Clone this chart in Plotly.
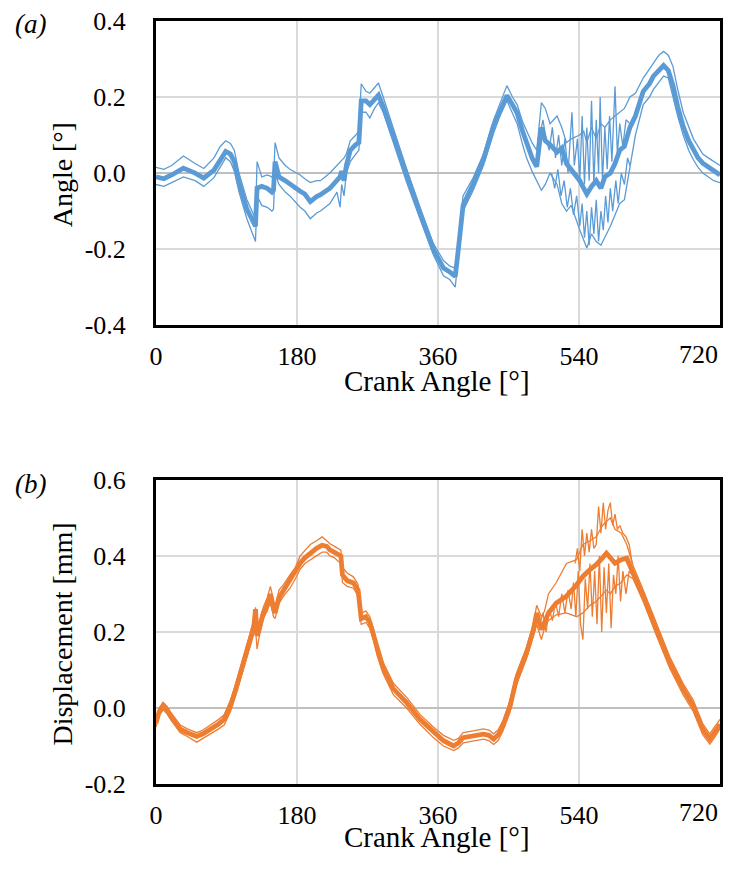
import plotly.graph_objects as go

# ---------------- data ----------------
CRANK_TICKS = [0, 180, 360, 540, 720]
CRANK_LABELS = ["0", "180", "360", "540", "720"]
A_TICKS = [-0.4, -0.2, 0.0, 0.2, 0.4]
A_LABELS = ["-0.4", "-0.2", "0.0", "0.2", "0.4"]
B_TICKS = [-0.2, 0.0, 0.2, 0.4, 0.6]
B_LABELS = ["-0.2", "0.0", "0.2", "0.4", "0.6"]

# (a) angle [deg]
A_DEG = [0, 10, 20, 35, 50, 61, 74, 82, 89, 95, 100, 106, 116, 127, 129, 135, 142, 148, 150, 152,
         157, 165, 171, 184, 190, 197, 205, 210, 222, 231, 235, 237, 240, 243, 248, 255, 259, 262, 268, 273,
         279, 284, 290, 303, 320, 337, 354, 367, 375, 382, 386, 392, 405, 418, 431, 440, 448, 455, 461, 468,
         473, 480, 486, 492, 497, 503, 512, 518, 524, 530, 541, 546, 550, 556, 562, 568, 573, 580, 586, 592,
         598, 605, 612, 622, 630, 635, 642, 648, 654, 660, 666, 673, 680, 686, 692, 698, 705, 712, 720]
A_MEAN = [-0.01, -0.015, -0.005, 0.013, 0.0, -0.013, 0.008, 0.035, 0.057, 0.05,
          0.03, -0.026, -0.095, -0.14, -0.04, -0.035, -0.04, -0.05, -0.045, 0.03,
          -0.01, -0.02, -0.03, -0.048, -0.055, -0.075, -0.062, -0.057, -0.04, -0.018,
          -0.01, 0.005, -0.02, 0.02, 0.06, 0.075, 0.08, 0.19, 0.19, 0.18,
          0.195, 0.205, 0.175, 0.096, -0.009, -0.105, -0.2, -0.25, -0.26, -0.272,
          -0.2, -0.085, -0.028, 0.035, 0.125, 0.17, 0.204, 0.18, 0.158, 0.11,
          0.079, 0.04, 0.017, 0.12, 0.085, 0.075, 0.055, 0.066, 0.025, 0.01,
          -0.02, -0.04, -0.055, -0.035, -0.02, -0.04, -0.01, 0.0, 0.025, 0.06,
          0.07, 0.12, 0.15, 0.215, 0.235, 0.255, 0.27, 0.283, 0.27, 0.23,
          0.175, 0.123, 0.085, 0.06, 0.04, 0.026, 0.015, 0.005, -0.005]
A_UP = [0.015, 0.01, 0.02, 0.045, 0.025, 0.012, 0.04, 0.07, 0.085, 0.078,
        0.06, 0.0, -0.07, -0.12, 0.03, -0.01, -0.005, -0.01, -0.02, 0.08,
        0.04, 0.02, 0.01, -0.005, -0.015, -0.025, -0.02, -0.02, 0.0, 0.02,
        0.03, 0.035, 0.04, 0.05, 0.085, 0.1, 0.11, 0.235, 0.215, 0.21,
        0.225, 0.237, 0.2, 0.115, 0.01, -0.09, -0.185, -0.23, -0.245, -0.25,
        -0.17, -0.06, -0.012, 0.05, 0.14, 0.19, 0.23, 0.2, 0.18, 0.135,
        0.11, 0.08, 0.06, 0.185, 0.17, 0.13, 0.15, 0.12, 0.08, 0.09,
        0.1, 0.11, 0.08, 0.12, 0.09, 0.13, 0.12, 0.14, 0.15, 0.16,
        0.17, 0.2, 0.21, 0.25, 0.275, 0.29, 0.31, 0.32, 0.31, 0.28,
        0.22, 0.16, 0.12, 0.09, 0.07, 0.05, 0.04, 0.03, 0.02]
A_LOW = [-0.03, -0.035, -0.025, -0.01, -0.02, -0.035, -0.012, 0.015, 0.04, 0.03,
         0.005, -0.05, -0.12, -0.18, -0.06, -0.085, -0.09, -0.1, -0.095, 0.0,
         -0.03, -0.05, -0.06, -0.09, -0.1, -0.12, -0.105, -0.1, -0.08, -0.05,
         -0.09, -0.03, -0.06, 0.0, 0.03, 0.05, 0.06, 0.16, 0.16, 0.145,
         0.17, 0.185, 0.16, 0.08, -0.025, -0.12, -0.215, -0.27, -0.28, -0.3,
         -0.22, -0.1, -0.045, 0.02, 0.105, 0.155, 0.19, 0.16, 0.13, 0.075,
         0.04, 0.005, -0.02, -0.045, -0.03, 0.0, -0.03, -0.08, -0.1, -0.085,
         -0.15, -0.175, -0.197, -0.16, -0.18, -0.19, -0.17, -0.14, -0.11, -0.08,
         -0.07, 0.01, 0.1, 0.18, 0.2, 0.22, 0.24, 0.255, 0.25, 0.2,
         0.15, 0.1, 0.06, 0.035, 0.015, 0.0, -0.01, -0.02, -0.025]
A_SPK1_DEG = [486, 490, 494, 498, 502, 506, 510, 514, 518, 522, 526, 529, 531, 534, 538, 541, 544, 547,
              550, 553, 556, 559, 562, 565, 567, 570, 573, 576, 579, 582, 586, 589, 592, 596, 600, 605]
A_SPK1 = [0.03, 0.1, 0.14, 0.09, 0.06, 0.12, 0.04, 0.1, 0.02, 0.09, 0.0, 0.1, 0.16, 0.02, 0.09, -0.02, 0.15, -0.03,
          0.12, -0.02, 0.19, -0.03, 0.14, 0.0, 0.2, -0.02, 0.12, 0.01, 0.15, 0.03, 0.228, 0.05, 0.13, 0.07, 0.14, 0.13]
A_SPK2_DEG = [505, 509, 513, 517, 521, 525, 529, 533, 537, 541, 544, 547, 550, 553, 556, 559, 562, 565,
              568, 571, 574, 577, 580, 583, 587, 590, 594, 598, 602, 605]
A_SPK2 = [0.0, -0.04, 0.01, -0.06, -0.02, -0.09, -0.04, -0.11, -0.06, -0.14, -0.08, -0.17, -0.1, -0.19, -0.09,
          -0.16, -0.07, -0.18, -0.1, -0.15, -0.06, -0.13, -0.04, -0.1, -0.02, -0.08, 0.0, -0.03, 0.04, 0.02]

# (b) displacement [mm]
B_DEG = [0, 4, 9, 14, 18.5, 25, 31, 40, 52, 60, 70, 80, 87, 95, 102, 108, 115, 120, 125, 127,
         129, 132, 137, 142, 146, 150, 152, 157, 163, 171, 178, 184, 190, 197, 205, 212, 218, 222, 228, 233,
         236, 238, 244, 252, 258, 262, 268, 273, 278, 282, 290, 303, 320, 337, 354, 367, 380, 386, 392, 405,
         418, 425, 431, 437, 443, 452, 460, 473, 482, 486, 492, 496, 501, 511, 524, 537, 545, 554, 562, 570,
         575, 580, 586, 594, 601, 609, 622, 639, 656, 673, 686, 698, 707, 713, 720]
B_MEAN = [-0.04, -0.01, 0.005, -0.005, -0.021, -0.04, -0.056, -0.065, -0.075, -0.068,
          -0.056, -0.042, -0.03, 0.005, 0.05, 0.093, 0.14, 0.18, 0.215, 0.26,
          0.19, 0.21, 0.25, 0.27, 0.3, 0.26, 0.25, 0.29, 0.31, 0.333,
          0.355, 0.381, 0.395, 0.407, 0.42, 0.428, 0.425, 0.416, 0.41, 0.403,
          0.4, 0.35, 0.335, 0.329, 0.31, 0.235, 0.24, 0.225, 0.19, 0.155,
          0.105, 0.05, 0.014, -0.03, -0.064, -0.086, -0.1, -0.092, -0.078, -0.073,
          -0.069, -0.072, -0.082, -0.07, -0.047, 0.005, 0.075, 0.145, 0.206, 0.25,
          0.206, 0.225, 0.25, 0.276, 0.294, 0.324, 0.346, 0.364, 0.377, 0.395,
          0.407, 0.395, 0.381, 0.39, 0.394, 0.355, 0.294, 0.206, 0.119, 0.049,
          0.005, -0.056, -0.082, -0.064, -0.043]
B_UP = [-0.03, 0.0, 0.015, 0.005, -0.01, -0.03, -0.045, -0.055, -0.065, -0.058,
        -0.045, -0.03, -0.018, 0.02, 0.065, 0.108, 0.155, 0.195, 0.235, 0.265,
        0.225, 0.225, 0.265, 0.29, 0.32, 0.28, 0.265, 0.31, 0.325, 0.35,
        0.37, 0.4, 0.415, 0.43, 0.44, 0.45, 0.44, 0.432, 0.425, 0.42,
        0.415, 0.37, 0.355, 0.345, 0.325, 0.25, 0.255, 0.24, 0.205, 0.17,
        0.12, 0.065, 0.028, -0.017, -0.05, -0.072, -0.085, -0.08, -0.065, -0.06,
        -0.055, -0.058, -0.068, -0.057, -0.033, 0.02, 0.09, 0.16, 0.225, 0.27,
        0.24, 0.255, 0.3, 0.33, 0.38, 0.39, 0.43, 0.44, 0.45, 0.48,
        0.49, 0.5, 0.47, 0.46, 0.43, 0.375, 0.31, 0.222, 0.134, 0.064,
        0.02, -0.042, -0.068, -0.05, -0.03]
B_LOW = [-0.05, -0.02, -0.005, -0.015, -0.03, -0.05, -0.065, -0.075, -0.09, -0.08,
         -0.068, -0.055, -0.045, -0.01, 0.035, 0.078, 0.125, 0.165, 0.2, 0.21,
         0.155, 0.19, 0.235, 0.255, 0.28, 0.24, 0.235, 0.275, 0.295, 0.315,
         0.34, 0.365, 0.38, 0.39, 0.4, 0.41, 0.41, 0.4, 0.395, 0.385,
         0.385, 0.33, 0.32, 0.315, 0.295, 0.22, 0.225, 0.21, 0.175, 0.14,
         0.09, 0.035, 0.0, -0.043, -0.078, -0.1, -0.112, -0.105, -0.092, -0.086,
         -0.082, -0.086, -0.096, -0.085, -0.06, -0.01, 0.06, 0.13, 0.19, 0.22,
         0.18, 0.21, 0.23, 0.245, 0.25, 0.24, 0.25, 0.27, 0.28, 0.3,
         0.31, 0.3, 0.32, 0.33, 0.35, 0.34, 0.28, 0.19, 0.104, 0.034,
         -0.01, -0.07, -0.095, -0.078, -0.055]
B_SPK1_DEG = [535, 538, 541, 544, 547, 550, 553, 556, 559, 562, 565, 568, 571, 574, 577, 580, 583, 586,
              589, 592, 596, 600, 604, 608]
B_SPK1 = [0.38, 0.42, 0.36, 0.47, 0.4, 0.46, 0.41, 0.47, 0.42, 0.43, 0.53, 0.46, 0.54, 0.47, 0.52, 0.54, 0.48,
          0.51, 0.47, 0.48, 0.46, 0.45, 0.43, 0.38]
B_SPK2_DEG = [490, 494, 498, 502, 506, 510, 514, 518, 522, 526, 530, 533, 536, 539, 542, 545, 548, 551,
              554, 557, 560, 563, 566, 569, 572, 575, 578, 581, 584, 587, 590, 593, 596, 600, 604, 608]
B_SPK2 = [0.22, 0.25, 0.2, 0.26, 0.23, 0.28, 0.24, 0.3, 0.25, 0.31, 0.26, 0.33, 0.24, 0.36, 0.22, 0.18, 0.34,
          0.26, 0.38, 0.24, 0.36, 0.22, 0.4, 0.2, 0.37, 0.25, 0.38, 0.21, 0.35, 0.3, 0.4, 0.28, 0.36, 0.3, 0.36, 0.35]

# ---------------- figure ----------------
BLUE = "#5B9BD5"
ORANGE = "#ED7D31"
FONT = "Liberation Serif, Times New Roman, Times, serif"

OFF = 8                      # default page margin of the html body
W, H = 744 - 2 * OFF, 878 - 2 * OFF
# plot area in page pixels: x 155.5..720, top panel y 21.3..325.3, bottom y 480..784
L = 155.5 - OFF
R = W - (720 - OFF)
T = 21.3 - OFF
B = H - (784 - OFF)
PW, PH = W - L - R, H - T - B


def px_x(p):
    return (p - OFF - L) / PW


def px_y(p):
    return (H - B - (p - OFF)) / PH


fig = go.Figure()


def add(x, y, color, width, xa, ya):
    fig.add_trace(go.Scatter(x=x, y=y, mode="lines", line=dict(color=color, width=width),
                             xaxis=xa, yaxis=ya, showlegend=False, hoverinfo="skip"))


for xs, ys in [(A_DEG, A_UP), (A_DEG, A_LOW), (A_SPK1_DEG, A_SPK1), (A_SPK2_DEG, A_SPK2)]:
    add(xs, ys, BLUE, 1.3, "x", "y")
add(A_DEG, A_MEAN, BLUE, 4.8, "x", "y")

for xs, ys in [(B_DEG, B_UP), (B_DEG, B_LOW), (B_SPK1_DEG, B_SPK1), (B_SPK2_DEG, B_SPK2)]:
    add(xs, ys, ORANGE, 1.3, "x2", "y2")
add(B_DEG, B_MEAN, ORANGE, 4.8, "x2", "y2")

TICK_SIZE = 26
tick_font = dict(family=FONT, size=TICK_SIZE, color="black")
# the last crank label is drawn right-aligned inside the frame, as in the reference
x_ticktext = CRANK_LABELS[:-1] + [""]
common_x = dict(range=[0, 720], tickmode="array", tickvals=CRANK_TICKS, ticktext=x_ticktext,
                showgrid=True, gridcolor="#d9d9d9", gridwidth=1.5, zeroline=False,
                showline=True, mirror=True, linecolor="black", linewidth=3,
                ticks="", tickfont=tick_font, ticklabelstandoff=6, ticklabeloverflow="allow")
common_y = dict(showgrid=True, gridcolor="#d9d9d9", gridwidth=1.5,
                zeroline=True, zerolinecolor="#bfbfbf", zerolinewidth=1.5,
                showline=True, mirror=True, linecolor="black", linewidth=3,
                ticks="", tickfont=tick_font, ticklabelstandoff=22, tickmode="array",
                ticklabeloverflow="allow")

top_lo = px_y(325.3)
bot_hi = px_y(480)

fig.update_layout(
    width=W, height=H, margin=dict(l=L, r=R, t=T, b=B, autoexpand=False),
    paper_bgcolor="white", plot_bgcolor="white",
    font=dict(family=FONT, color="black"),
    xaxis=dict(domain=[0, 1], anchor="y", **common_x),
    yaxis=dict(domain=[top_lo, 1], anchor="x", range=[-0.4, 0.4],
               tickvals=A_TICKS, ticktext=A_LABELS, **common_y),
    xaxis2=dict(domain=[0, 1], anchor="y2", **common_x),
    yaxis2=dict(domain=[0, bot_hi], anchor="x2", range=[-0.2, 0.6],
                tickvals=B_TICKS, ticktext=B_LABELS, **common_y),
)

for xr, yp in [("x", 355), ("x2", 812)]:
    fig.add_annotation(text=CRANK_LABELS[-1], xref=xr, yref="paper", x=CRANK_TICKS[-1], y=px_y(yp),
                       xanchor="right", yanchor="middle", showarrow=False, font=tick_font)

ann = [
    dict(text="Crank Angle [°]", x=px_x(437), y=px_y(381), textangle=0, size=29),
    dict(text="Crank Angle [°]", x=px_x(437), y=px_y(837), textangle=0, size=29),
    dict(text="Angle [°]", x=px_x(62), y=px_y(175), textangle=-90, size=28),
    dict(text="Displacement [mm]", x=px_x(62), y=px_y(634), textangle=-90, size=28),
]
for a in ann:
    size = a.pop("size")
    fig.add_annotation(xref="paper", yref="paper", xanchor="center", yanchor="middle",
                       showarrow=False, font=dict(family=FONT, size=size, color="black"), **a)
for lab, yp in [("(a)", 24), ("(b)", 484)]:
    fig.add_annotation(text="<i>" + lab + "</i>", xref="paper", yref="paper", x=px_x(30), y=px_y(yp),
                       xanchor="center", yanchor="middle", showarrow=False,
                       font=dict(family=FONT, size=27, color="black"))

fig.write_html("out.html")
